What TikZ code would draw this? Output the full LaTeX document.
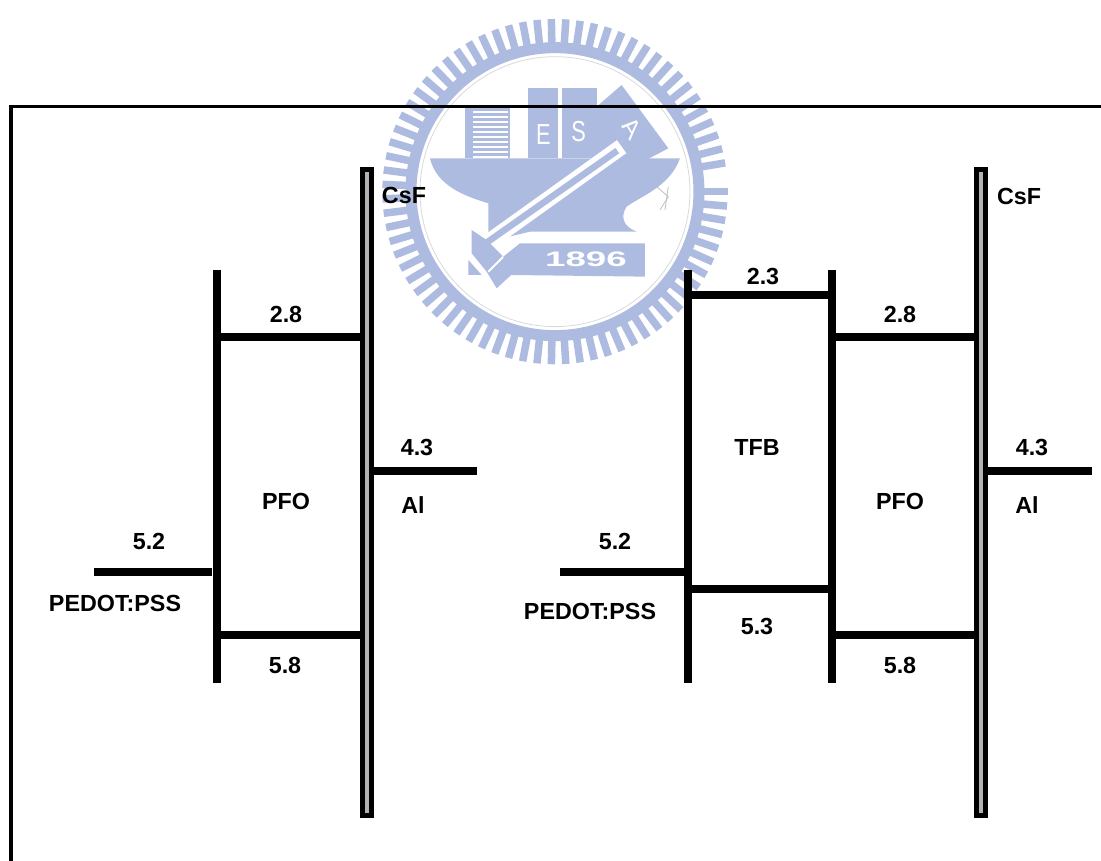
\documentclass[tikz,border=0pt]{standalone}
\usepackage{fontspec}
\setmainfont{Liberation Sans}
\usetikzlibrary{positioning}
\definecolor{sealblue}{RGB}{174,187,224}
\begin{document}
\begin{tikzpicture}[
  x=1pt, y=-1pt,
  font=\bfseries\fontsize{23.3}{26}\selectfont,
  bar/.style={fill=black, inner sep=0pt, minimum width=8pt},
  csf/.style={draw=black, fill=black!30, line width=5pt, inner sep=0pt, minimum width=9.5pt},
  level/.style={line width=8pt, black},
  seal/.style={fill=sealblue, draw=none},
  sealtxt/.style={text=white, font=\fontsize{29}{31}\selectfont, inner sep=0pt, xscale=0.75},
]
  \useasboundingbox (0,0) rectangle (1101,861);

  % Seal behind the plot
  \begin{scope}[shift={(340,0)}, x=0.3333pt, y=-0.3333pt]
    \foreach \a in {0,4.8,...,355}
      \draw[sealblue, line width=7.5pt] (645,575) ++(\a:425) -- ++(\a:93);
    \draw[sealblue, line width=11pt] (645,575) circle[radius=432];
    \draw[black!15, line width=0.8pt] (645,575) circle[radius=405];
    % buildings
    \fill[seal] (375,320) rectangle (510,475);
    \foreach \y in {335,350,...,470}
      \draw[white, line width=1.8pt] (400,\y) -- (505,\y);
    \fill[seal] (565,265) rectangle (655,475);
    \fill[seal] (665,265) rectangle (770,475);
    \fill[seal] (770,320) -- (845,255) -- (985,445) -- (900,490) -- (770,475) -- cycle;
    \node[sealtxt] (lete) at (610,405) {E};
    \node[sealtxt] (lets) at (716,395) {S};
    \node[sealtxt, rotate=-52] (leta) at (875,385) {A};
    % anvil
    \fill[seal] (270,475) -- (1020,475) .. controls (990,560) and (900,590) .. (860,620)
      .. controls (840,650) and (850,680) .. (890,695) -- (570,695) -- (445,725) -- (445,610)
      .. controls (380,590) and (290,560) .. (270,475) -- cycle;
    % hammer
    \draw[white, line width=16pt] (845,440) -- (440,730);
    \draw[sealblue, line width=6.5pt] (832,452) -- (430,735);
    \fill[seal] (395,690) -- (440,720) -- (530,810) -- (470,865) -- (440,815) -- (395,760) -- cycle;
    \fill[seal] (385,780) -- (425,825) -- (385,825) -- cycle;
    \draw[white, line width=2pt] (490,770) -- (445,815);
    % year plate
    \fill[seal] (540,730) -- (915,730) -- (915,830) -- (510,825) -- (490,770) -- cycle;
    \node[sealtxt, font=\bfseries\fontsize{21}{23}\selectfont, xscale=2.33] (year) at (738,778) {1896};
    % small mark
    \draw[black!25, line width=0.8pt] (950,560) -- (985,590) -- (960,630);
    \draw[black!25, line width=0.8pt] (985,560) -- (975,630);
  \end{scope}

  % Frame
  \coordinate (framea) at (11,861);
  \coordinate (frameb) at (11,106.5);
  \coordinate (framec) at (1101,106.5);
  \draw[line width=3.3pt, line join=miter] (framea) -- (frameb) -- (framec);

  % Level heights
  \coordinate (lumoa) at (0,295);
  \coordinate (lumob) at (0,337);
  \coordinate (homoa) at (0,589);
  \coordinate (homob) at (0,635);

  % Device 1
  \node[bar, minimum height=413pt] (pfol) at (216.5,476.5) {};
  \node[csf, minimum height=646pt] (csfl) at (367,492.5) {};
  \coordinate (all) at (477,471);
  \coordinate (pedl) at (94,572);
  \draw[level] (pfol.east |- lumob) -- (csfl.west |- lumob);
  \draw[level] (pfol.east |- homob) -- (csfl.west |- homob);
  \draw[level] (csfl.east |- all) -- (all);
  \draw[level] (pedl) -- (pfol.west |- pedl);

  \node (csftl) at (404,195.5) {CsF};
  \node (lumotl) at (286,314) {2.8};
  \node (pfotl) at (286,501) {PFO};
  \node (homotl) at (285,665) {5.8};
  \node (altl) at (417,447) {4.3};
  \node (alnl) at (413,505) {Al};
  \node (pedtl) at (149,541) {5.2};
  \node (pednl) at (115,603) {PEDOT:PSS};

  % Device 2
  \node[bar, minimum height=413pt] (tfbr) at (688,476.5) {};
  \node[bar, minimum height=413pt] (pfor) at (832,476.5) {};
  \node[csf, minimum height=646pt] (csfr) at (981,492.5) {};
  \coordinate (alr) at (1092,471);
  \coordinate (pedr) at (560,572);
  \draw[level] (tfbr.east |- lumoa) -- (pfor.west |- lumoa);
  \draw[level] (tfbr.east |- homoa) -- (pfor.west |- homoa);
  \draw[level] (pfor.east |- lumob) -- (csfr.west |- lumob);
  \draw[level] (pfor.east |- homob) -- (csfr.west |- homob);
  \draw[level] (csfr.east |- alr) -- (alr);
  \draw[level] (pedr) -- (tfbr.west |- pedr);

  \node (csftr) at (1019,196) {CsF};
  \node (lumotf) at (763,276) {2.3};
  \node (tfbt) at (757,447) {TFB};
  \node (homotf) at (757,626) {5.3};
  \node (lumotr) at (900,314) {2.8};
  \node (pfotr) at (900,501) {PFO};
  \node (homotr) at (900,665) {5.8};
  \node (altr) at (1032,447) {4.3};
  \node (alnr) at (1027,505) {Al};
  \node (pedtr) at (615,541) {5.2};
  \node (pednr) at (590,611) {PEDOT:PSS};
\end{tikzpicture}
\end{document}
